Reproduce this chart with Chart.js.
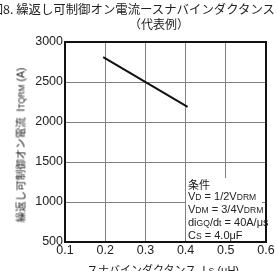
<!DOCTYPE html>
<html>
<head>
<meta charset="utf-8">
<script src="https://cdn.jsdelivr.net/npm/chart.js@4"></script>
<style>
  html, body { margin: 0; padding: 0; background: #fff; }
  body { width: 278px; height: 271px; position: relative; overflow: hidden;
         font-family: "Liberation Sans", "Noto Sans CJK JP", sans-serif; color: #222; }
  #wrap { position: absolute; left: 0; top: 0; width: 278px; height: 271px; }
  .t { position: absolute; white-space: nowrap; }
  .jp { font-family: "Noto Sans CJK JP", sans-serif; }
  .sm { font-size: 0.78em; }
  #title1 { right: 3px; top: 0px; font-size: 12.4px; }
  #title2 { left: 159px; top: 15px; font-size: 12px; transform: translateX(-50%); }
  #ytitle { left: 20px; top: 145px; font-size: 10.5px; transform: translate(-50%, -50%) rotate(-90deg); }
  #xtitle { left: 163px; top: 261px; font-size: 11px; transform: translateX(-50%); }
  #cond { left: 186px; top: 178px; width: 76px; height: 63px; background: #fff;
          font-size: 11px; line-height: 12px; padding-left: 2px; box-sizing: border-box; }
</style>
</head>
<body>
<div id="wrap"><canvas id="chart" width="278" height="271"></canvas></div>
<div class="t jp" id="title1">図8. 繰返し可制御オン電流ースナバインダクタンス</div>
<div class="t jp" id="title2">（代表例）</div>
<div class="t" id="ytitle"><span class="jp">繰返し可制御オン電流</span>&nbsp;&nbsp;I<span class="sm">TQRM</span> (A)</div>
<div class="t" id="xtitle"><span class="jp">スナバインダクタンス</span>&nbsp;&nbsp;L<span class="sm">S</span> (μH)</div>
<div class="t" id="cond">
  <div class="jp">条件</div>
  <div>V<span class="sm">D</span> = 1/2V<span class="sm">DRM</span></div>
  <div>V<span class="sm">DM</span> = 3/4V<span class="sm">DRM</span></div>
  <div>di<span class="sm">GQ</span>/d<span class="sm">t</span> = 40A/μs</div>
  <div>C<span class="sm">S</span> = 4.0μF</div>
</div>
<script>
// snubber inductance (uH) vs repetitive controllable on-state current (A)
const inductance = [0.195, 0.405];
const currentA = [2810, 2190];
const xTicks = [0.1, 0.2, 0.3, 0.4, 0.5, 0.6];
const yTicks = [500, 1000, 1500, 2000, 2500, 3000];

const points = inductance.map((x, i) => ({ x: x, y: currentA[i] }));

new Chart(document.getElementById("chart").getContext("2d"), {
  type: "scatter",
  data: {
    datasets: [{
      data: points,
      showLine: true,
      borderColor: "#111",
      borderWidth: 2,
      pointRadius: 0,
      fill: false
    }]
  },
  options: {
    responsive: false,
    animation: false,
    layout: { padding: { left: 0, right: 12, top: 42, bottom: 0 } },
    plugins: { legend: { display: false }, tooltip: { enabled: false } },
    scales: {
      x: {
        type: "linear",
        min: 0.1, max: 0.6,
        afterBuildTicks: s => { s.ticks = xTicks.map(v => ({ value: v })); },
        afterFit: s => { s.height = 29; },
        grid: { color: "#808080", lineWidth: 1, drawTicks: false },
        border: { color: "#111", width: 2 },
        ticks: { color: "#222", font: { family: "Liberation Sans", size: 12.5 }, padding: 1,
                 callback: v => v.toFixed(1) }
      },
      y: {
        type: "linear",
        min: 500, max: 3000,
        afterBuildTicks: s => { s.ticks = yTicks.map(v => ({ value: v })); },
        afterFit: s => { s.width = 65; },
        grid: { color: "#808080", lineWidth: 1, drawTicks: false },
        border: { color: "#111", width: 2 },
        ticks: { color: "#222", font: { family: "Liberation Sans", size: 12.5 }, padding: 2,
                 callback: v => String(v) }
      }
    }
  },
  plugins: [{
    id: "frame",
    afterDraw(chart) {
      const { ctx, chartArea: a } = chart;
      ctx.save();
      ctx.strokeStyle = "#111";
      ctx.lineWidth = 2;
      ctx.strokeRect(a.left, a.top, a.right - a.left, a.bottom - a.top);
      ctx.restore();
    }
  }]
});
</script>
</body>
</html>
